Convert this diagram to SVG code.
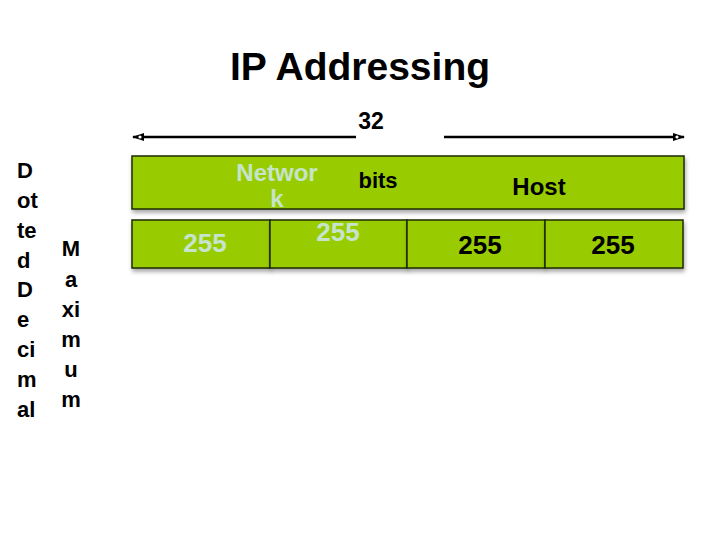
<svg xmlns="http://www.w3.org/2000/svg" width="720" height="540" viewBox="0 0 720 540">
<defs>
<filter id="sh" x="-5%" y="-20%" width="110%" height="150%">
<feDropShadow dx="1" dy="3" stdDeviation="2" flood-color="#000" flood-opacity="0.35"/>
</filter>
<marker id="ah" viewBox="0 0 12 10" refX="11" refY="5" markerWidth="12" markerHeight="10" markerUnits="userSpaceOnUse" orient="auto-start-reverse">
<path d="M0,1 L12,5 L0,9 Z" fill="#000"/>
<circle cx="4" cy="5" r="1.6" fill="#fff"/>
</marker>
</defs>
<style>
.t{font-family:"Liberation Sans",Arial,sans-serif;font-weight:bold;fill:#000}
.lt{fill:#c6e4cc}
.box{fill:#99cc00;stroke:#1e2a00;stroke-width:1.5}
</style>
<rect width="720" height="540" fill="#fff"/>
<g id="title"><text class="t" x="360" y="80" font-size="39" text-anchor="middle">IP Addressing</text></g>
<g id="connectors">
<line x1="356" y1="137" x2="133" y2="137" stroke="#000" stroke-width="2.5" marker-end="url(#ah)"/>
<line x1="444" y1="137" x2="684" y2="137" stroke="#000" stroke-width="2.5" marker-end="url(#ah)"/>
</g>
<g id="label32"><text class="t" x="371" y="129" font-size="23" text-anchor="middle">32</text></g>
<g id="bitsbar">
<rect class="box" x="132" y="156" width="552" height="53" filter="url(#sh)"/>
<text class="t lt" x="277" y="181" font-size="24" text-anchor="middle">Networ</text>
<text class="t lt" x="277" y="207" font-size="24" text-anchor="middle">k</text>
<text class="t" x="378" y="188" font-size="22" text-anchor="middle">bits</text>
<text class="t" x="539" y="195" font-size="24" text-anchor="middle">Host</text>
</g>
<g id="octet1"><rect class="box" x="132" y="220" width="138" height="48" filter="url(#sh)"/><text class="t lt" x="205" y="252" font-size="26" text-anchor="middle">255</text></g>
<g id="octet2"><rect class="box" x="270" y="220" width="137" height="48" filter="url(#sh)"/><text class="t lt" x="338" y="241" font-size="26" text-anchor="middle">255</text></g>
<g id="octet3"><rect class="box" x="407" y="220" width="138" height="48" filter="url(#sh)"/><text class="t" x="480" y="254" font-size="26" text-anchor="middle">255</text></g>
<g id="octet4"><rect class="box" x="545" y="220" width="138" height="48" filter="url(#sh)"/><text class="t" x="613" y="254" font-size="26" text-anchor="middle">255</text></g>
<g id="dotted" font-size="22">
<text class="t" x="17" y="178">D</text>
<text class="t" x="17" y="208">ot</text>
<text class="t" x="17" y="238">te</text>
<text class="t" x="17" y="268">d</text>
<text class="t" x="17" y="297">D</text>
<text class="t" x="17" y="327">e</text>
<text class="t" x="17" y="357">ci</text>
<text class="t" x="17" y="387">m</text>
<text class="t" x="17" y="417">al</text>
</g>
<g id="maximum" font-size="22">
<text class="t" x="71" y="256" text-anchor="middle">M</text>
<text class="t" x="71" y="287" text-anchor="middle">a</text>
<text class="t" x="71" y="317" text-anchor="middle">xi</text>
<text class="t" x="71" y="347" text-anchor="middle">m</text>
<text class="t" x="71" y="377" text-anchor="middle">u</text>
<text class="t" x="71" y="407" text-anchor="middle">m</text>
</g>
</svg>
